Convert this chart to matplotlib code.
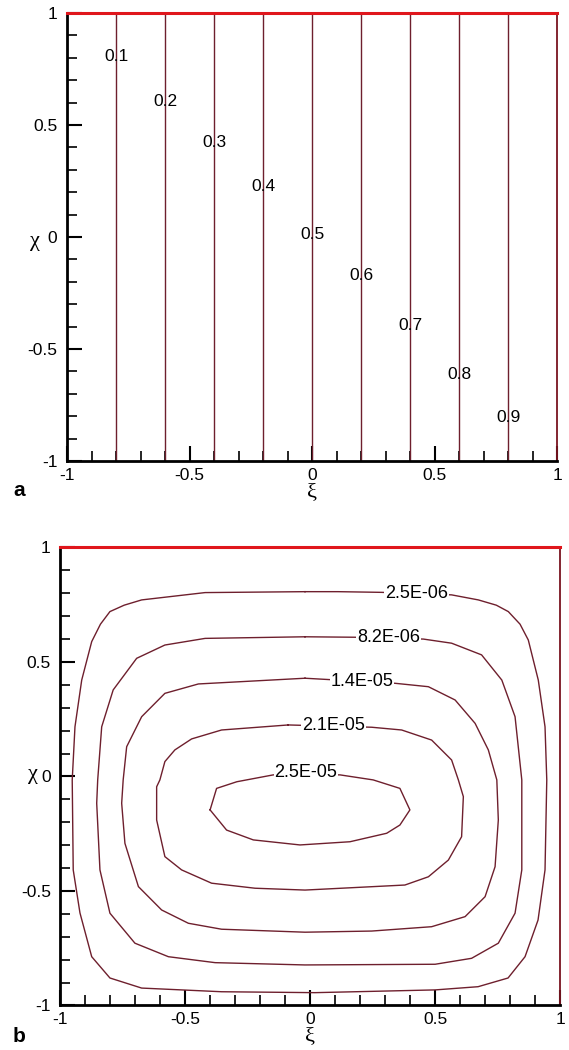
import matplotlib
matplotlib.use("Agg")
import matplotlib.pyplot as plt
from matplotlib.ticker import MultipleLocator, FuncFormatter
import numpy as np

plt.rcParams['font.family'] = ['Liberation Sans', 'DejaVu Sans']
plt.rcParams['axes.unicode_minus'] = False

# ---- panel a: field known at the four corners, linear in xi ----
a_xi = [-1.0, 1.0]
a_chi = [-1.0, 1.0]
a_field = [[0.0, 1.0],
           [0.0, 1.0]]
a_levels = [0.1, 0.2, 0.3, 0.4, 0.5, 0.6, 0.7, 0.8, 0.9]
# where each label sits on its line
a_lab_xi = [-0.8, -0.6, -0.4, -0.2, 0.0, 0.2, 0.4, 0.6, 0.8]
a_lab_chi = [0.804, 0.604, 0.42, 0.223, 0.009, -0.174, -0.397, -0.616, -0.806]

# ---- panel b: contour lines ----
b_levels = ['2.5E-06', '8.2E-06', '1.4E-05', '2.1E-05', '2.5E-05']

c1_xi = [-0.021, 0.111, 0.286, 0.566, 0.673, 0.745, 0.793, 0.840, 0.873, 0.913, 0.940, 0.947,
         0.940, 0.912, 0.860, 0.792, 0.672, 0.500, 0.019, -0.355, -0.675, -0.802,
         -0.875, -0.922, -0.949, -0.953, -0.942, -0.915, -0.875, -0.840, -0.802, -0.745, -0.675, -0.421]
c1_chi = [0.807, 0.807, 0.804, 0.793, 0.771, 0.748, 0.720, 0.665, 0.596, 0.421, 0.217, -0.015,
          -0.408, -0.627, -0.787, -0.880, -0.918, -0.932, -0.944, -0.940, -0.924, -0.880,
          -0.787, -0.596, -0.408, -0.015, 0.217, 0.421, 0.589, 0.665, 0.720, 0.748, 0.771, 0.803]

c2_xi = [-0.021, 0.179, 0.453, 0.566, 0.686, 0.767, 0.820, 0.847, 0.847, 0.820,
         0.753, 0.646, 0.500, -0.021, -0.381, -0.568, -0.702, -0.802, -0.842, -0.855,
         -0.851, -0.835, -0.789, -0.695, -0.582, -0.421]
c2_chi = [0.610, 0.608, 0.600, 0.582, 0.531, 0.421, 0.261, -0.015, -0.408, -0.597,
          -0.728, -0.794, -0.820, -0.823, -0.813, -0.787, -0.728, -0.597, -0.408, -0.117,
          -0.015, 0.217, 0.378, 0.516, 0.574, 0.603]

c3_xi = [-0.021, 0.339, 0.473, 0.580, 0.660, 0.713, 0.747, 0.753, 0.740, 0.700,
         0.620, 0.486, 0.246, -0.021, -0.355, -0.488, -0.595, -0.688, -0.742, -0.755,
         -0.749, -0.735, -0.675, -0.582, -0.448]
c3_chi = [0.429, 0.407, 0.392, 0.334, 0.232, 0.116, -0.015, -0.190, -0.394, -0.525,
          -0.612, -0.656, -0.675, -0.680, -0.667, -0.641, -0.583, -0.481, -0.292, -0.117,
          -0.015, 0.130, 0.261, 0.363, 0.404]

c4_xi = [-0.088, 0.246, 0.366, 0.486, 0.566, 0.593, 0.613, 0.606, 0.553, 0.473,
         0.379, -0.021, -0.221, -0.395, -0.515, -0.582, -0.615, -0.615, -0.602, -0.582,
         -0.542, -0.475, -0.355]
c4_chi = [0.225, 0.215, 0.203, 0.159, 0.072, -0.015, -0.088, -0.263, -0.365, -0.438,
          -0.474, -0.496, -0.488, -0.466, -0.408, -0.350, -0.190, -0.045, -0.015, 0.065,
          0.116, 0.164, 0.203]

c5_xi = [-0.401, -0.375, -0.294, -0.148, 0.119, 0.252, 0.359, 0.399, 0.359, 0.306,
         0.159, -0.041, -0.228, -0.335]
c5_chi = [-0.146, -0.052, -0.023, 0.007, 0.007, -0.015, -0.052, -0.146, -0.212, -0.248,
          -0.285, -0.299, -0.277, -0.234]

b_lab_xi = [0.426, 0.313, 0.206, 0.093, -0.018]
b_lab_chi = [0.801, 0.608, 0.414, 0.223, 0.017]

line_col = '#6e1f2d'
lid_col = '#e0161c'
edge_col = '#7a1420'


def style_axes(ax, ylab_xy):
    ax.set_xlim(-1, 1)
    ax.set_ylim(-1, 1)
    for s in ['left', 'bottom']:
        ax.spines[s].set_linewidth(2.0)
        ax.spines[s].set_color('black')
    ax.spines['top'].set_color(lid_col)
    ax.spines['top'].set_linewidth(2.2)
    ax.spines['right'].set_color(edge_col)
    ax.spines['right'].set_linewidth(1.3)
    ax.xaxis.set_major_locator(MultipleLocator(0.5))
    ax.yaxis.set_major_locator(MultipleLocator(0.5))
    ax.xaxis.set_minor_locator(MultipleLocator(0.1))
    ax.yaxis.set_minor_locator(MultipleLocator(0.1))
    fmt = FuncFormatter(lambda v, p: '%g' % v)
    ax.xaxis.set_major_formatter(fmt)
    ax.yaxis.set_major_formatter(fmt)
    ax.tick_params(which='major', direction='in', length=11, width=1.5,
                   top=False, right=False, labelsize=12.5, colors='black')
    ax.tick_params(which='minor', direction='in', length=7, width=1.2,
                   top=False, right=False)
    ax.tick_params(axis='y', which='major', pad=7)
    ax.tick_params(axis='x', which='major', pad=5)
    ax.set_xlabel('ξ', family=['Liberation Serif', 'DejaVu Serif'], fontsize=16,
                  labelpad=0)
    ax.set_ylabel('χ', family=['Liberation Serif', 'DejaVu Serif'], fontsize=16,
                  rotation=0, va='center', ha='center')
    ax.yaxis.set_label_coords(*ylab_xy)


fig = plt.figure(figsize=(5.69, 10.5), dpi=100)
ax1 = fig.add_axes([0.1178, 0.5610, 0.8612, 0.4267])
ax2 = fig.add_axes([0.1063, 0.0424, 0.8779, 0.4362])

# panel a
ax1.contour(a_xi, a_chi, a_field, levels=a_levels, colors=line_col, linewidths=1.0)
for lv, x, y in zip(a_levels, a_lab_xi, a_lab_chi):
    ax1.text(x, y, '%.1f' % lv, ha='center', va='center', fontsize=12.5, zorder=5)
style_axes(ax1, (-0.066, 0.49))

# panel b
curves = [(c1_xi, c1_chi), (c2_xi, c2_chi), (c3_xi, c3_chi), (c4_xi, c4_chi), (c5_xi, c5_chi)]
for cx, cy in curves:
    ax2.plot(cx + cx[:1], cy + cy[:1], color=line_col, lw=1.0)
for lab, x, y in zip(b_levels, b_lab_xi, b_lab_chi):
    ax2.text(x, y, lab, ha='center', va='center', fontsize=13, zorder=5,
             bbox=dict(facecolor='white', edgecolor='none', pad=0.5))
style_axes(ax2, (-0.056, 0.505))

fig.text(19 / 569, 1 - 491 / 1050, 'a', fontsize=15, weight='bold', ha='center', va='center')
fig.text(19 / 569, 1 - 1036 / 1050, 'b', fontsize=15, weight='bold', ha='center', va='center')

fig.savefig('out.png', dpi=100)
